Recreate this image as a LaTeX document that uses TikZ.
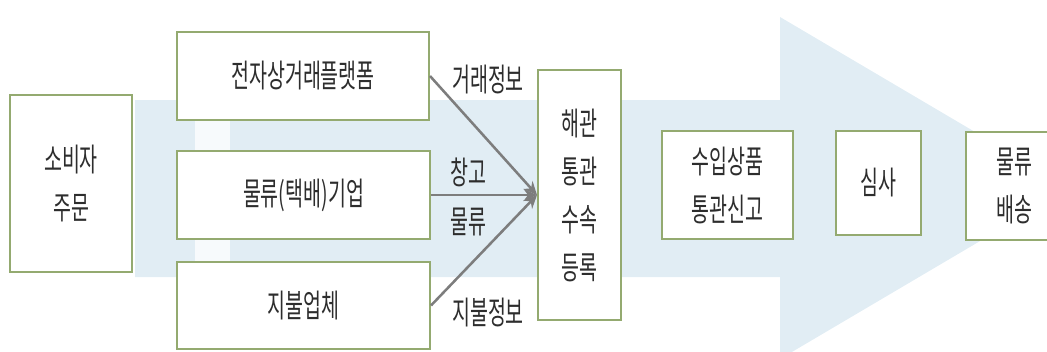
\documentclass[tikz,border=0pt]{standalone}
\usepackage{fontspec}
\newfontfamily\kr[FakeStretch=0.61]{Noto Sans CJK KR}
\usetikzlibrary{arrows.meta}
\definecolor{shaft}{RGB}{225,237,244}
\definecolor{boxline}{RGB}{148,170,112}
\definecolor{txt}{RGB}{45,45,45}
\definecolor{conn}{RGB}{125,125,125}
\tikzset{
  stagebox/.style={draw=boxline, line width=1.5pt, fill=white, inner sep=0pt,
    align=center, text=txt, font=\kr\fontsize{24}{36}\selectfont},
  lbl/.style={inner sep=0pt, text=txt, font=\kr\fontsize{24}{36}\selectfont},
  conline/.style={draw=conn, line width=1.9pt, -{Stealth[length=10pt,width=9pt]}}
}
\begin{document}
\begin{tikzpicture}[x=0.75pt,y=-0.75pt]
\useasboundingbox (0,0) rectangle (1047,351);
\clip (0,0) rectangle (1047,351);
% big background arrow
\fill[shaft] (135,100) -- (780,100) -- (780,17) -- (1070,188) -- (780,359) -- (780,277) -- (135,277) -- cycle;
\fill[white, opacity=0.75] (195,118) rectangle (230,262);
% boxes
\node[stagebox, minimum width=91.5pt, minimum height=132.75pt] (cons) at (71,183.5) {소비자\\주문};
\node[stagebox, minimum width=189pt, minimum height=66pt] (plat) at (303,76) {전자상거래플랫폼};
\node[stagebox, minimum width=189.75pt, minimum height=66pt] (logi) at (303.5,195) {물류(택배)기업};
\node[stagebox, minimum width=189.75pt, minimum height=65.25pt] (pay) at (303.5,305.5) {지불업체};
\node[stagebox, minimum width=62.25pt, minimum height=187.5pt] (cust) at (579.5,195) {해관\\통관\\수속\\등록};
\node[stagebox, minimum width=98.25pt, minimum height=81pt] (imp) at (727.5,185) {수입상품\\통관신고};
\node[stagebox, minimum width=63.75pt, minimum height=78pt] (rev) at (878.5,183) {심사};
\node[stagebox, minimum width=72pt, minimum height=81pt] (dlv) at (1014,186) {물류\\배송};
% connectors
\draw[conline] (plat.east) -- (cust.west);
\draw[conline] (logi.east) -- (cust.west);
\draw[conline] (pay.east) -- (cust.west);
% labels
\node[lbl] (l1) at (488,80) {거래정보};
\node[lbl] (l2) at (468,172) {창고};
\node[lbl] (l3) at (468,222) {물류};
\node[lbl] (l4) at (488,313) {지불정보};
\end{tikzpicture}
\end{document}
